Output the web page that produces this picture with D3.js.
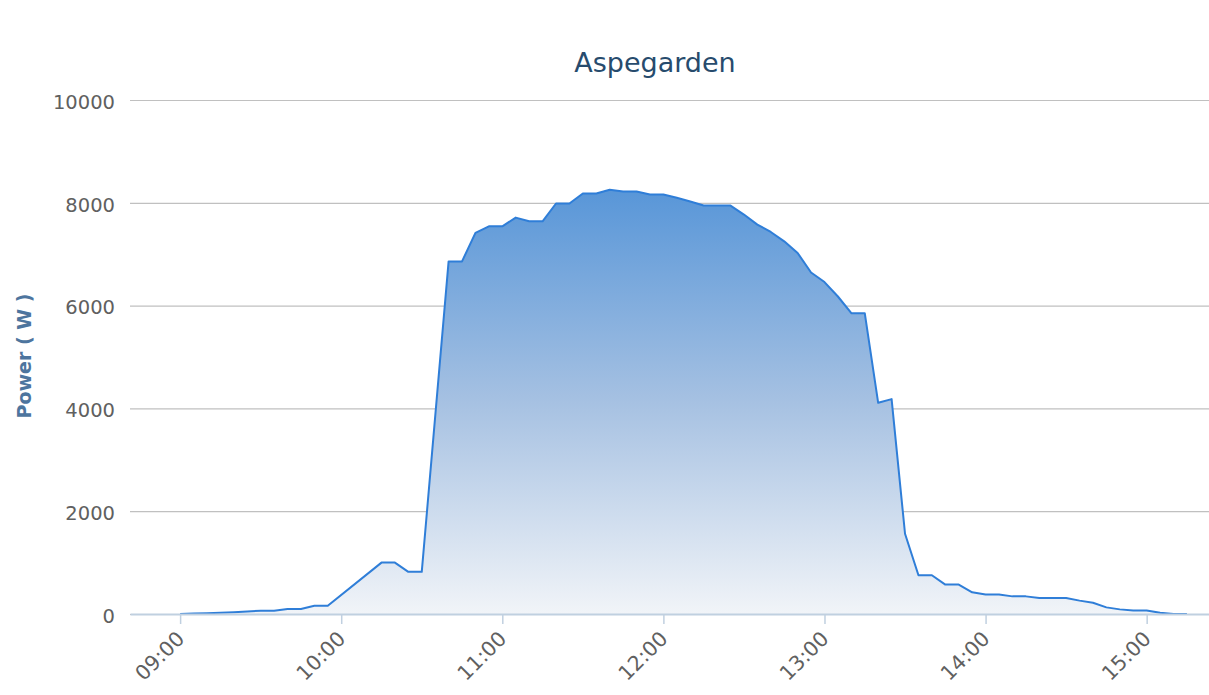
<!DOCTYPE html>
<html>
<head>
<meta charset="utf-8">
<script src="https://cdn.jsdelivr.net/npm/d3@7"></script>
<style>
  body { margin: 0; background: #fff; }
  svg text { font-family: "DejaVu Sans", "Lucida Grande", sans-serif; }
</style>
</head>
<body>
<div id="chart-div"></div>
<script>
// Chart data (5 minute readings, some missing):
var times = [
  "09:00","09:05","09:10","09:15","09:20","09:25","09:30","09:35","09:40","09:45","09:50","09:55",
  "10:15","10:20","10:25","10:30","10:40","10:45","10:50","10:55",
  "11:00","11:05","11:10","11:15","11:20","11:25","11:30","11:35","11:40","11:45","11:50","11:55",
  "12:00","12:05","12:10","12:15","12:20","12:25","12:30","12:35","12:40","12:45","12:50","12:55",
  "13:00","13:05","13:10","13:15","13:20","13:25","13:30","13:35","13:40","13:45","13:50","13:55",
  "14:00","14:05","14:10","14:15","14:20","14:25","14:30","14:35","14:40","14:45","14:50","14:55",
  "15:00","15:05","15:10","15:15"
];
var power = [
  0, 8, 15, 25, 35, 48, 64, 64, 97, 97, 161, 161,
  1000, 1000, 820, 820, 6860, 6860, 7414, 7543,
  7543, 7712, 7640, 7640, 7986, 7986, 8181, 8181, 8253, 8220, 8220, 8161,
  8161, 8097, 8025, 7946, 7946, 7946, 7771, 7576, 7433, 7250, 7024, 6645,
  6458, 6177, 5853, 5853, 4109, 4181, 1561, 753, 753, 572, 572, 421,
  380, 380, 343, 343, 312, 312, 312, 260, 220, 129, 90, 70,
  70, 25, 0, 0
];
var yTicks = [0, 2000, 4000, 6000, 8000, 10000];
var xStart = "08:41:20",
    xEnd   = "15:23:13";
var chartTitle = "Aspegarden",
    yTitle = "Power ( W )";

// Figure proportions:
var width = 1209,
    height = 695,
    plot_left = 130,
    plot_right = 1209,
    plot_top = 100,
    plot_bottom = 614;

var parseTime = d3.timeParse("%H:%M"),
    parseFull = d3.timeParse("%H:%M:%S");

var data = times.map(function(t, i) {
  return { time: parseTime(t), value: power[i] };
});

var svg = d3.select("#chart-div")
  .append("svg")
    .attr("width", width)
    .attr("height", height)
;

// Scales:
var x = d3.scaleTime()
  .domain([parseFull(xStart), parseFull(xEnd)])
  .range([plot_left, plot_right])
;
var y = d3.scaleLinear()
  .domain([0, 10000])
  .range([plot_bottom, plot_top])
;

// Gradient for the area:
var grad = svg.append("defs")
  .append("linearGradient")
    .attr("id", "area-grad")
    .attr("x1", 0).attr("y1", 0)
    .attr("x2", 0).attr("y2", 1)
;
grad.append("stop").attr("offset", "0%").attr("stop-color", "#5896d8");
grad.append("stop").attr("offset", "50%").attr("stop-color", "#a6c1e2");
grad.append("stop").attr("offset", "100%").attr("stop-color", "#f1f4f8");

// Y axis with grid lines:
var yAxis = svg.append("g")
  .attr("transform", "translate(" + plot_left + ",0)")
  .call(d3.axisLeft(y)
    .tickValues(yTicks)
    .tickSize(-(plot_right - plot_left))
    .tickPadding(15)
    .tickFormat(d3.format("d"))
  )
;
yAxis.select(".domain").remove();
yAxis.selectAll(".tick line")
  .attr("stroke", "#c0c0c0")
  .attr("stroke-width", 1.2)
;
yAxis.selectAll(".tick text")
  .attr("fill", "#606060")
  .attr("dy", "0.42em")
  .style("font-size", "19.5px")
;

// Area and line:
var area = d3.area()
  .x(d => x(d.time))
  .y0(y(0))
  .y1(d => y(d.value))
;
var line = d3.line()
  .x(d => x(d.time))
  .y(d => y(d.value))
;
svg.append("path")
  .datum(data)
  .attr("d", area)
  .attr("fill", "url(#area-grad)")
;
svg.append("path")
  .datum(data)
  .attr("d", line)
  .attr("fill", "none")
  .attr("stroke", "#2f7ed8")
  .attr("stroke-width", 2)
  .attr("stroke-linejoin", "round")
;

// X axis: hourly ticks, rotated labels
var xAxis = svg.append("g")
  .attr("transform", "translate(0," + plot_bottom + ")")
  .call(d3.axisBottom(x)
    .ticks(d3.timeHour.every(1))
    .tickFormat(d3.timeFormat("%H:%M"))
    .tickSize(10)
    .tickSizeOuter(0)
  )
;
xAxis.select(".domain")
  .attr("stroke", "#c0d0e0")
  .attr("stroke-width", 2)
;
xAxis.selectAll(".tick line")
  .attr("stroke", "#c0d0e0")
  .attr("stroke-width", 1.5)
;
xAxis.selectAll(".tick text")
  .attr("fill", "#606060")
  .attr("text-anchor", "end")
  .attr("dy", 0)
  .attr("y", 0)
  .attr("transform", "translate(5,26) rotate(-45)")
  .style("font-size", "20.5px")
;

// Title:
svg.append("text")
  .attr("x", 655)
  .attr("y", 72)
  .attr("text-anchor", "middle")
  .attr("fill", "#274b6d")
  .style("font-size", "27px")
  .text(chartTitle)
;

// Y axis label:
svg.append("text")
  .attr("transform", "translate(31,356) rotate(-90)")
  .attr("text-anchor", "middle")
  .attr("fill", "#4d759e")
  .style("font-size", "19px")
  .style("font-weight", "bold")
  .text(yTitle)
;
</script>
</body>
</html>
